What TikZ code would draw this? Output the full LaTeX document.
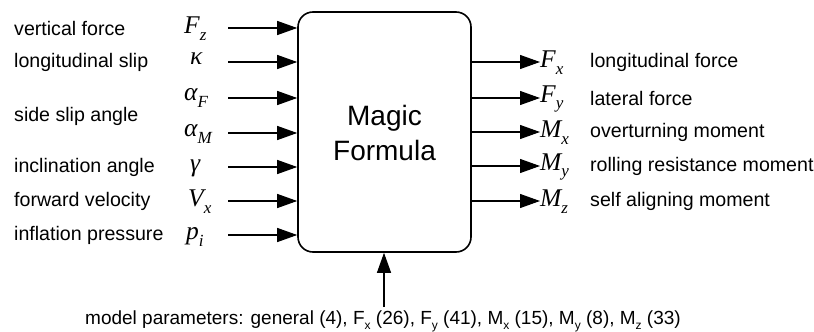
\documentclass[tikz,border=0pt]{standalone}
\usepackage{fontspec}
\setmainfont{Liberation Sans}
\newfontfamily\symfont{Liberation Serif}[UprightFont=* Italic]
\usetikzlibrary{arrows.meta}

% quantity symbol with subscript, serif italic
\newcommand\qsym[2]{{\symfont\fontsize{25.5}{25.5}\selectfont #1\raisebox{-0.27em}{\fontsize{17}{17}\selectfont #2}}}
% small sans subscript in running text
\newcommand\tsub[1]{\raisebox{-0.25em}{\fontsize{12}{12}\selectfont #1}}

\tikzset{
  lbl/.style={anchor=west, inner sep=0pt, font=\fontsize{19.6}{22}\selectfont},
  qty/.style={anchor=west, inner sep=0pt},
  blockbox/.style={draw, line width=1.6pt, rounded corners=15pt, minimum width=173pt, minimum height=240pt, inner sep=0pt},
  sig/.style={line width=1.1pt, -{Triangle[length=20pt,width=14pt]}},
}

\begin{document}
\begin{tikzpicture}[x=1pt,y=-1pt]
\useasboundingbox (0,0) rectangle (814,332);

% central block
\node[blockbox] (mf) at (384.5,132) {};
\node[align=center, font=\fontsize{28}{35}\selectfont] (mft) at (384.5,133) {Magic\\Formula};

% inputs
\node[lbl] (l1) at (14,28) {vertical force};
\node[lbl] (l2) at (14,62) {longitudinal slip};
\node[lbl] (l3) at (14,116) {side slip angle};
\node[lbl] (l5) at (14,167) {inclination angle};
\node[lbl] (l6) at (14,201) {forward velocity};
\node[lbl] (l7) at (14,235) {inflation pressure};

\node[qty] (i1) at (184,29) {\qsym{F}{z}};
\node[qty] (i2) at (190,62) {\qsym{κ}{}};
\node[qty] (i3) at (184,98) {\qsym{α}{F}};
\node[qty] (i4) at (184,134) {\qsym{α}{M}};
\node[qty] (i5) at (190,169) {\qsym{γ}{}};
\node[qty] (i6) at (188,202) {\qsym{V}{x}};
\node[qty] (i7) at (186,237) {\qsym{p}{i}};

\foreach \k/\y in {1/28,2/62,3/98,4/133,5/167,6/201,7/235}{
  \coordinate (s\k) at (228,\y);
  \draw[sig] (s\k) -- (mf.west |- s\k);
}

% outputs
\foreach \k/\y in {1/62,2/98,3/132,4/166,5/201}{
  \coordinate (t\k) at (540,\y);
  \draw[sig] (mf.east |- t\k) -- (t\k);
}
\node[qty] (o1) at (540,63) {\qsym{F}{x}};
\node[qty] (o2) at (540,99) {\qsym{F}{y}};
\node[qty] (o3) at (540,133) {\qsym{M}{x}};
\node[qty] (o4) at (540,167) {\qsym{M}{y}};
\node[qty] (o5) at (540,202) {\qsym{M}{z}};

\node[lbl] (r1) at (590,62) {longitudinal force};
\node[lbl] (r2) at (590,98) {lateral force};
\node[lbl] (r3) at (590,132) {overturning moment};
\node[lbl] (r4) at (590,166) {rolling resistance moment};
\node[lbl] (r5) at (590,201) {self aligning moment};

% model parameters
\node[inner sep=0pt, font=\fontsize{19}{22}\selectfont] (mp) at (383,321)
  {model parameters: general (4), F\tsub{x} (26), F\tsub{y} (41), M\tsub{x} (15), M\tsub{y} (8), M\tsub{z} (33)};
\coordinate (mpa) at (384,307);
\draw[sig] (mpa) -- (mf.south -| mpa);
\end{tikzpicture}
\end{document}
